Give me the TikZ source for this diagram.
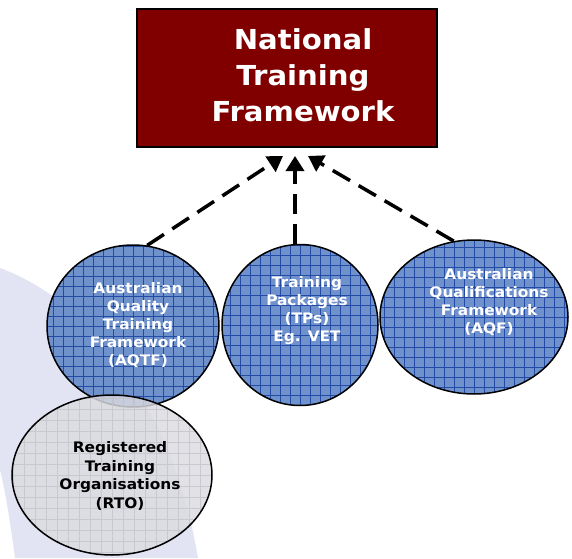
\documentclass[tikz,border=0pt]{standalone}
\usepackage{fontspec}
\usetikzlibrary{shapes.geometric,arrows.meta,calc}
\newfontfamily\slidefont[FakeStretch=1.06]{DejaVu Sans}
\definecolor{nattred}{RGB}{128,0,0}
\definecolor{circblue}{RGB}{112,146,204}
\definecolor{gridblue}{RGB}{35,75,165}
\definecolor{rtogrey}{RGB}{219,219,224}
\definecolor{gridgrey}{RGB}{196,196,202}
\definecolor{swoosh}{RGB}{226,228,243}
\begin{document}
\begin{tikzpicture}[x=1pt,y=1pt,
    titlebox/.style={draw=black,line width=2pt,fill=nattred,minimum width=300pt,minimum height=138pt,inner sep=0pt},
    titletext/.style={text=white,align=center,font=\slidefont\bfseries\fontsize{27.5}{36}\selectfont},
    bluecirc/.style={ellipse,draw=black,line width=1.5pt,fill=circblue,inner sep=0pt,
      path picture={\draw[gridblue,line width=0.6pt] (path picture bounding box.south west) grid[step=10pt] (path picture bounding box.north east);}},
    greycirc/.style={ellipse,draw=black,line width=1.5pt,fill=rtogrey,fill opacity=0.82,inner sep=0pt,
      path picture={\draw[gridgrey,line width=0.5pt,draw opacity=0.8] (path picture bounding box.south west) grid[step=11pt] (path picture bounding box.north east);}},
    circtext/.style={text=white,align=center,font=\slidefont\bfseries\fontsize{14.5}{18}\selectfont},
    rtotext/.style={text=black,align=center,font=\slidefont\bfseries\fontsize{14.5}{18.5}\selectfont},
    dasharrow/.style={line width=3.5pt,dash pattern=on 20pt off 10pt,-{Triangle[width=18pt,length=15pt]}}]
  \useasboundingbox (0,0) rectangle (572,558);
  % slide background
  \fill[swoosh] (0,290) .. controls (100,253) and (175,138) .. (198,0)
    -- (15,0) .. controls (10,38) and (5,68) .. (0,88) -- cycle;
  % top box
  \node[titlebox] (nat) at (287,480) {};
  \node[titletext] (nattext) at (303,483) {National\\Training\\Framework};
  % the three bodies
  \node[bluecirc,minimum width=172pt,minimum height=162pt] (aqtf) at (133,232) {};
  \node[bluecirc,minimum width=156pt,minimum height=161pt] (tps) at (300,233) {};
  \node[bluecirc,minimum width=188pt,minimum height=154pt] (aqf) at (474,241) {};
  \node[circtext] (aqtftext) at (138,233) {Australian\\Quality\\Training\\Framework\\(AQTF)};
  \node[circtext] (tpstext) at (307,247) {Training\\Packages\\(TPs)\\Eg. VET};
  \node[circtext] (aqftext) at (489,256) {Australian\\Qualifications\\Framework\\(AQF)};
  % rto on top
  \node[greycirc,minimum width=200pt,minimum height=160pt] (rto) at (112,83) {};
  \node[rtotext] (rtotext) at (120,82) {Registered\\Training\\Organisations\\(RTO)};
  \begin{scope}[dasharrow]
    \draw (aqtf.80) -- ($(nat.south)+(-4,-8)$);
    \draw ($(tps.north)+(-5,0)$) -- ($(nat.south)+(8,-8)$);
    \draw (aqf.105) -- ($(nat.south)+(21,-8)$);
  \end{scope}
\end{tikzpicture}
\end{document}
